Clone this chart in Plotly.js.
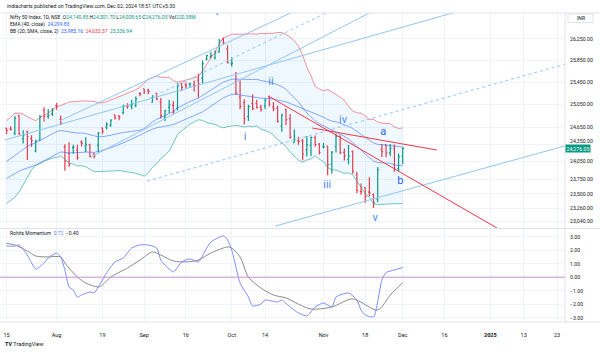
<!DOCTYPE html>
<html><head><meta charset="utf-8">
<script src="https://cdn.plot.ly/plotly-3.0.1.min.js"></script>
<style>html,body{margin:0;padding:0;background:#fff;}#chart{width:600px;height:353px;}</style>
</head><body><div id="chart"></div>
<script>
// ---------- data ----------
const dates = ['Jul 15','Jul 16','Jul 18','Jul 19','Jul 22','Jul 23','Jul 24','Jul 25','Jul 26','Jul 29','Jul 30','Jul 31',
 'Aug 1','Aug 2','Aug 5','Aug 6','Aug 7','Aug 8','Aug 9','Aug 12','Aug 13','Aug 14','Aug 16','Aug 19','Aug 20','Aug 21','Aug 22','Aug 23','Aug 26','Aug 27','Aug 28','Aug 29','Aug 30',
 'Sep 2','Sep 3','Sep 4','Sep 5','Sep 6','Sep 9','Sep 10','Sep 11','Sep 12','Sep 13','Sep 16','Sep 17','Sep 18','Sep 19','Sep 20','Sep 23','Sep 24','Sep 25','Sep 26','Sep 27','Sep 30',
 'Oct 1','Oct 3','Oct 4','Oct 7','Oct 8','Oct 9','Oct 10','Oct 11','Oct 14','Oct 15','Oct 16','Oct 17','Oct 18','Oct 21','Oct 22','Oct 23','Oct 24','Oct 25','Oct 28','Oct 29','Oct 30','Oct 31',
 'Nov 1','Nov 4','Nov 5','Nov 6','Nov 7','Nov 8','Nov 11','Nov 12','Nov 13','Nov 14','Nov 18','Nov 19','Nov 21','Nov 22','Nov 25','Nov 26','Nov 27','Nov 28','Nov 29',
 'Dec 2'];
const opens = [24630,24616,24543,24854,24445,24568,24445,24231,24424,24943,24839,24886,
 25031,24789,24303,24189,24290,24248,24387,24320,24343,24184,24334,24636,24648,24680,24863,24846,24906,25024,25031,25035,25249,
 25333,25302,25090,25251,25093,24823,24999,25035,24986,25430,25406,25416,25402,25488,25525,25873,25921,25899,26005,26248,26061,
 25788,25453,25182,25085,24832,25066,25067,25002,25024,25186,25008,24988,24664,24956,24798,24378,24412,24418,24251,24329,24462,24349,
 24302,24316,24000,24309,24490,24207,24087,24225,23822,23542,23605,23529,23488,23411,24254,24343,24204,24274,23927,
 24140.85];
const highs = [24635,24662,24838,24854,24595,24582,24504,24426,24862,24999,24971,24985,
 25078,24852,24350,24382,24338,24340,24420,24472,24359,24196,24563,24638,24734,24787,24867,24858,25043,25074,25130,25193,25268,
 25334,25333,25216,25261,25168,24957,25130,25114,25433,25430,25445,25441,25482,25611,25849,25957,26011,26033,26250,26277,26134,
 25907,25639,25485,25143,25044,25234,25134,25045,25159,25213,25093,25029,24886,24978,24882,24604,24480,24440,24492,24484,24499,24372,
 24368,24316,24230,24537,24503,24276,24336,24242,23873,23675,23606,23780,23507,23956,24352,24343,24354,24345,24188,
 24301.70];
const lows = [24522,24588,24504,24509,24363,24074,24307,24211,24410,24742,24798,24844,
 24956,24686,23893,23960,24184,24079,24311,24212,24117,24100,24204,24522,24607,24654,24784,24771,24874,24973,24965,24999,25199,
 25236,25235,25083,25125,24802,24754,24896,24885,24941,25292,25336,25352,25285,25176,25426,25847,25886,25872,25998,26151,25794,
 25739,25230,24966,24694,24757,24948,24980,24920,24965,25008,24929,24728,24567,24679,24445,24378,24341,24073,24135,24141,24307,24172,
 24280,23817,23842,24205,24179,24066,24004,23840,23510,23485,23350,23465,23263,23359,24126,24125,24145,23874,23873,
 24008.65];
const closes = [24587,24613,24801,24531,24509,24479,24413,24406,24835,24836,24857,24951,
 25011,24718,24056,23993,24298,24118,24368,24347,24140,24144,24541,24573,24698,24771,24811,24823,25010,25017,25052,25152,25236,
 25279,25280,25198,25145,24852,24936,25041,24918,25389,25357,25384,25419,25377,25416,25791,25939,25940,26004,26216,26179,25811,
 25797,25250,25015,24796,25013,24982,24998,24964,25128,25057,24971,24750,24854,24781,24472,24435,24399,24181,24339,24467,24341,24205,
 24304,23995,24213,24484,24199,24148,24141,23884,23559,23533,23453,23518,23350,23907,24222,24194,24275,23914,24131,
 24276.05];
const ema40 = [23760,23801,23850,23884,23915,23942,23964,23986,24027,24067,24105,24147,24189,24215,24207,24197,24202,24198,24207,24213,
 24210,24207,24223,24241,24263,24288,24314,24339,24373,24404,24435,24470,24508,24545,24581,24611,24637,24648,24662,24680,
 24692,24725,24756,24787,24817,24844,24872,24917,24967,25015,25063,25119,25171,25202,25232,25233,25222,25202,25192,25181,
 25173,25162,25161,25155,25147,25127,25114,25098,25067,25037,25006,24965,24935,24913,24884,24851,24824,24783,24755,24742,
 24716,24689,24661,24623,24572,24521,24469,24423,24370,24348,24340,24333,24330,24310,24301,24299.83];
const bbBasis = [24049,24102,24166,24215,24265,24312,24347,24373,24413,24454,24490,24531,24568,24588,24575,24559,24552,24542,24544,24536,
 24514,24491,24478,24480,24489,24504,24524,24544,24553,24562,24572,24582,24593,24621,24683,24743,24785,24822,24850,24885,
 24924,24986,25027,25067,25104,25134,25164,25212,25259,25305,25353,25406,25453,25480,25505,25508,25502,25499,25503,25500,
 25504,25482,25471,25455,25432,25401,25373,25322,25249,25174,25093,24992,24900,24832,24760,24707,24672,24632,24592,24567,
 24527,24486,24437,24378,24308,24247,24177,24114,24057,24031,24022,24023,24020,23992,23981,23985.16];
const bbUpper = [24761,24817,24890,24899,24877,24830,24789,24760,24816,24855,24899,24952,25019,25030,25060,25095,25099,25112,25112,25112,
 25113,25107,25079,25082,25100,25126,25158,25191,25219,25248,25279,25316,25360,25443,25507,25533,25567,25541,25541,25539,
 25480,25452,25471,25491,25508,25528,25550,25658,25790,25902,26007,26154,26269,26304,26340,26337,26341,26348,26341,26346,
 26339,26354,26352,26352,26357,26371,26371,26335,26283,26214,26115,25947,25725,25567,25373,25326,25295,25318,25277,25230,
 25178,25125,25018,24934,24901,24894,24849,24784,24784,24739,24716,24717,24709,24651,24624,24633.37];
const bbLower = [23337,23387,23442,23531,23653,23794,23905,23986,24010,24053,24081,24110,24117,24146,24090,24023,24005,23972,23976,23960,
 23915,23875,23877,23878,23878,23882,23890,23897,23887,23876,23865,23848,23826,23799,23859,23953,24003,24103,24159,24231,
 24368,24520,24583,24643,24700,24740,24778,24766,24728,24708,24699,24658,24637,24656,24670,24679,24663,24650,24665,24654,
 24669,24610,24590,24558,24507,24431,24375,24309,24215,24134,24071,24037,24075,24097,24147,24088,24049,23946,23907,23904,
 23876,23847,23856,23822,23715,23600,23505,23444,23330,23323,23328,23329,23331,23333,23338,23336.94];
// momentum (bar index, value)
const momBlueBars = [0,2,3,5,7,9,10,12,13,14,15,16,17,18,20,21,22,24,26,28,30,32,34,36,37,38,40,42,44,46,48,49,52,53,54,55,56,58,59,61,62,65,66,68,70,72,74,76,78,79,82,84,85,86,88,89,90,91,93,95];
const momBlueVals = [2.31,2.30,2.39,1.64,0.61,1.05,1.42,1.79,1.50,0.53,-0.73,-0.95,-1.47,-1.32,-1.10,-1.17,-0.73,0.31,1.13,1.42,2.16,2.39,2.39,2.16,1.27,0.90,0.39,1.13,1.35,1.13,2.16,2.61,3.05,2.76,2.01,0.76,-0.43,-1.47,-2.13,-1.99,-1.69,-1.84,-1.69,-2.21,-2.65,-2.87,-2.21,-1.91,-2.21,-1.47,-1.17,-1.69,-2.43,-2.80,-2.95,-1.80,-0.20,0.35,0.53,0.72];
const momGrayBars = [0,2,5,7,10,13,14,17,19,22,23,25,29,32,35,37,40,43,46,49,53,54,56,58,61,64,67,70,73,78,83,89,92,95];
const momGrayVals = [2.50,2.39,1.94,1.57,1.50,1.50,1.05,0.01,-0.43,-0.73,-0.58,0.01,0.68,1.27,1.87,1.64,1.20,1.13,1.27,1.79,2.24,2.16,1.50,0.01,-0.80,-1.32,-1.54,-2.00,-2.36,-2.21,-1.61,-2.43,-1.32,-0.40];
// drawn trendlines: [bar0, price0, bar1, price1, dotted]
const blueLines = [
 [64.4,22966,133.9,24320,0],
 [33.7,23717,133.9,25780,1],
 [-0.4,24422,109.5,26800,0],
 [12.8,24760,68.7,26762,0],
 [20.0,24120,88.4,26800,0],
 [34.4,25162,78.1,26800,1]
];
const redLines = [
 [63.2,25183,117.6,22934],
 [73.3,24632,103.2,24248]
];
const waveText = ['i','ii','iii','iv','v','a','b','v'];
const waveBars = [57.2,63.4,76.9,80.7,88.4,90.3,94.4,50.5];
const wavePrices = [24474,25455,23650,24773,23097,24562,23717,26762];
// axis ticks
const timeTickBars = [0,12,23,33,43,54,62,76,86,95,105,116,124,132];
const timeTickText = ['15','Aug','19','Sep','16','Oct','14','Nov','18','Dec','16','<b>2025</b>','13','23'];
const priceTicks = [23040,23260,23500,23750,24050,24350,24650,25050,25450,25850,26250];
const priceTickNearLast = 24350;
const momTicks = [-3,-2,-1,0,1,2,3];

// ---------- helpers (layout only) ----------
const PW = 565, PT = 13, PH = 309;
const px = v => v / PW;
const py = v => 1 - (v - PT) / PH;
const fmt = v => v.toLocaleString('en-US',{minimumFractionDigits:2, maximumFractionDigits:2});
const idx = dates.map((d,i)=>i);
const lastClose = closes[closes.length-1];

const traces = [];
traces.push({x:idx, y:bbLower, type:'scatter', mode:'lines', line:{color:'rgba(8,153,129,0.55)', width:1}, hoverinfo:'skip'});
traces.push({x:idx, y:bbUpper, type:'scatter', mode:'lines', line:{color:'rgba(242,54,69,0.55)', width:1}, fill:'tonexty', fillcolor:'rgba(33,150,243,0.07)', hoverinfo:'skip'});
traces.push({x:idx, y:bbBasis, type:'scatter', mode:'lines', line:{color:'rgba(41,98,255,0.55)', width:1}, hoverinfo:'skip'});
traces.push({x:idx, y:ema40, type:'scatter', mode:'lines', line:{color:'rgba(41,98,255,0.55)', width:1}, hoverinfo:'skip'});
blueLines.forEach(l => traces.push({x:[l[0],l[2]], y:[l[1],l[3]], type:'scatter', mode:'lines', line:{color:'#90C6F6', width:1, dash:l[4]?'dot':'solid'}, hoverinfo:'skip'}));
redLines.forEach(l => traces.push({x:[l[0],l[2]], y:[l[1],l[3]], type:'scatter', mode:'lines', line:{color:'#F23645', width:1}, hoverinfo:'skip'}));
traces.push({type:'ohlc', x:idx, open:opens, high:highs, low:lows, close:closes, tickwidth:0.3,
  increasing:{line:{color:'#089981', width:1.2}}, decreasing:{line:{color:'#F23645', width:1.2}}, hoverinfo:'skip'});
traces.push({x:waveBars, y:wavePrices, type:'scatter', mode:'text', text:waveText, cliponaxis:true,
  textfont:{family:'Roboto, sans-serif', size:11, color:['#4A8BF5','#4A8BF5','#4A8BF5','#4A8BF5','#4A8BF5','#2962FF','#2962FF','#4A8BF5']}, hoverinfo:'skip'});
traces.push({x:momGrayBars, y:momGrayVals, xaxis:'x', yaxis:'y2', type:'scatter', mode:'lines', line:{color:'#8A8A8A', width:1, shape:'spline', smoothing:0.8}, hoverinfo:'skip'});
traces.push({x:momBlueBars, y:momBlueVals, xaxis:'x', yaxis:'y2', type:'scatter', mode:'lines', line:{color:'#7F8CFA', width:1, shape:'spline', smoothing:0.6}, hoverinfo:'skip'});

const grid = '#F0F3FA';
const layout = {
  width:600, height:353, margin:{l:0, r:600-PW, t:PT, b:353-PT-PH},
  paper_bgcolor:'#ffffff', plot_bgcolor:'#ffffff', showlegend:false,
  font:{family:'Roboto, sans-serif', size:5.2, color:'#131722'},
  xaxis:{range:[-1.56,133.9], anchor:'y2', tickmode:'array', tickvals:timeTickBars, ticktext:timeTickText,
    showgrid:true, gridcolor:grid, gridwidth:1, zeroline:false, showline:false, ticks:'', ticklabelstandoff:8,
    tickfont:{size:5.5, color:'#131722'}, rangeslider:{visible:false}, fixedrange:true},
  yaxis:{domain:[0.3042,1], type:'log', range:[4.36049,4.42718], side:'right', tickmode:'array', tickvals:priceTicks,
    ticktext:priceTicks.map(v => v === priceTickNearLast ? '' : fmt(v)), showgrid:true, gridcolor:grid, zeroline:false, showline:false, ticks:'', ticklabelstandoff:4,
    tickfont:{size:5.2, color:'#131722'}, fixedrange:true},
  yaxis2:{domain:[0,0.3010], range:[-3.32,3.57], side:'right', tickmode:'array', tickvals:momTicks,
    ticktext:momTicks.map(v => (v<0?'\u2212':'') + Math.abs(v).toFixed(2)), showgrid:true, gridcolor:grid, zeroline:false,
    showline:false, ticks:'', ticklabelstandoff:4, tickfont:{size:5.2, color:'#131722'}, fixedrange:true},
  shapes:[
    {type:'line', xref:'paper', yref:'paper', x0:0, x1:600/PW, y0:1, y1:1, line:{color:'#E0E3EB', width:1}},
    {type:'line', xref:'paper', yref:'paper', x0:0, x1:600/PW, y0:0.3026, y1:0.3026, line:{color:'#E0E3EB', width:1}},
    {type:'line', xref:'paper', yref:'paper', x0:0, x1:600/PW, y0:0, y1:0, line:{color:'#E0E3EB', width:1}},
    {type:'line', xref:'paper', yref:'paper', x0:1, x1:1, y0:0, y1:1, line:{color:'#E0E3EB', width:1}},
    {type:'line', xref:'paper', yref:'y', x0:0, x1:1, y0:Math.log10(lastClose), y1:Math.log10(lastClose), line:{color:'rgba(8,153,129,0.35)', width:1, dash:'dot'}},
    {type:'line', xref:'paper', yref:'y2', x0:0, x1:1, y0:0, y1:0, line:{color:'#CE93D8', width:1}},
    {type:'rect', xref:'paper', yref:'paper', x0:px(568), x1:px(593), y0:py(22.5), y1:py(14), fillcolor:'#ffffff', line:{color:'#E0E3EB', width:1}, layer:'above'}
  ],
  annotations:[
    {xref:'paper', yref:'paper', x:px(5), y:py(5.7), xanchor:'left', yanchor:'middle', showarrow:false,
     text:'indiacharts published on TradingView.com, Dec 02, 2024 18:51 UTC+5:30', font:{size:5.2, color:'#131722'}},
    {xref:'paper', yref:'paper', x:px(8), y:py(17.3), xanchor:'left', yanchor:'middle', showarrow:false,
     text:'Nifty 50 Index, 1D, NSE  O<span style="color:#089981">24,140.85</span> H<span style="color:#089981">24,301.70</span> L<span style="color:#089981">24,008.65</span> C<span style="color:#089981">24,276.05</span> Vol<span style="color:#089981">220.38M</span>',
     font:{size:5, color:'#131722'}},
    {xref:'paper', yref:'paper', x:px(8), y:py(24.5), xanchor:'left', yanchor:'middle', showarrow:false,
     text:'EMA (40, close)  <span style="color:#2962FF">24,299.83</span>', font:{size:5, color:'#131722'}},
    {xref:'paper', yref:'paper', x:px(8), y:py(31.8), xanchor:'left', yanchor:'middle', showarrow:false,
     text:'BB (20, SMA, close, 2)  <span style="color:#2962FF">23,985.16</span>  <span style="color:#F23645">24,633.37</span>  <span style="color:#089981">23,336.94</span>', font:{size:5, color:'#131722'}},
    {xref:'paper', yref:'paper', x:px(8), y:py(232.7), xanchor:'left', yanchor:'middle', showarrow:false,
     text:'Rohits Momentum  <span style="color:#6C7BFF">0.72</span>  <span style="color:#131722">\u22120.40</span>', font:{size:5, color:'#131722'}},
    {xref:'paper', yref:'paper', x:px(3), y:py(344), xanchor:'left', yanchor:'middle', showarrow:false,
     text:'<b>TV</b> TradingView', font:{size:5.5, color:'#131722'}},
    {xref:'paper', yref:'paper', x:px(580.5), y:py(18.2), xanchor:'center', yanchor:'middle', showarrow:false,
     text:'INR', font:{size:5, color:'#131722'}},
    {xref:'paper', yref:'y', x:px(569), y:Math.log10(priceTickNearLast), yshift:3.5, xanchor:'left', yanchor:'middle', showarrow:false,
     borderpad:0, text:fmt(priceTickNearLast), font:{size:5.2, color:'#131722'}},
    {xref:'paper', yref:'y', x:px(565), y:Math.log10(lastClose), xanchor:'left', yanchor:'middle', showarrow:false,
     text:fmt(lastClose), bgcolor:'#089981', borderpad:0.5, font:{size:5.2, color:'#ffffff'}}
  ]
};
Plotly.newPlot('chart', traces, layout, {staticPlot:true, displayModeBar:false});
</script>
</body></html>
